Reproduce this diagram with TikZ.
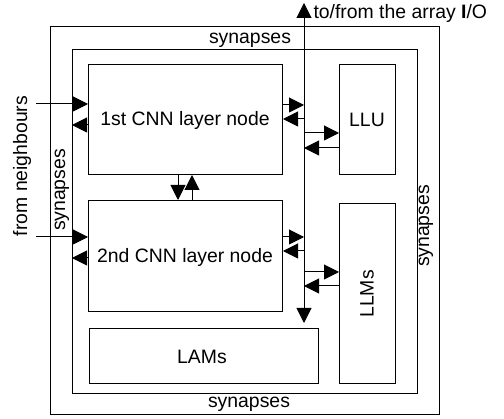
\documentclass[tikz,border=0pt]{standalone}
\usepackage{fontspec}
\setmainfont{Liberation Sans}
\usetikzlibrary{arrows.meta}
\begin{document}
\begin{tikzpicture}[x=1pt,y=-1pt,
  every node/.style={font=\fontsize{19.4}{23}\selectfont},
  frame/.style={draw,line width=1pt},
  box/.style={draw,line width=1pt,anchor=north west,inner sep=0pt},
  lbl/.style={inner sep=0pt},
  tip/.tip={Triangle[length=15pt,width=15pt]},
  conn/.style={line width=1pt,-tip},
  line width=1pt]
\useasboundingbox (0,0) rectangle (504,419);
% frames
\draw[frame] (50,27) rectangle (439,415);
\draw[frame] (72,50) rectangle (417,394);
% blocks
\node[box,minimum width=194pt,minimum height=110pt] (n1) at (88,64) {};
\node[lbl] at (185,120) {1st CNN layer node};
\node[box,minimum width=194pt,minimum height=111pt] (n2) at (88,200) {};
\node[lbl] at (185,257) {2nd CNN layer node};
\node[box,minimum width=229pt,minimum height=55pt] (lams) at (89,328) {};
\node[lbl] at (202,357) {LAMs};
\node[box,minimum width=56pt,minimum height=110pt] (llu) at (339,64) {};
\node[lbl] at (367,120) {LLU};
\node[box,minimum width=56pt,minimum height=180pt] (llms) at (339,203) {};
\node[lbl,rotate=90] at (367,294) {LLMs};
% labels
\node[lbl] (syt) at (250,40) {synapses};
\node[lbl] (syb) at (249,404) {synapses};
\node[lbl,rotate=90] (syl) at (62,190) {synapses};
\node[lbl,rotate=90] (syr) at (426,226) {synapses};
\node[lbl,rotate=90] (nb) at (22,166) {from neighbours};
\node[lbl,anchor=base west] (io) at (313,19) {to/from the array {\bfseries I}/O};
% bus
\coordinate (bustop) at (304,3);
\coordinate (busbot) at (304,323);
\draw[line width=1pt,tip-tip] (busbot) -- (bustop);
% bus taps
\coordinate (b1o) at (304,105);
\coordinate (b1i) at (304,119);
\coordinate (b2o) at (304,237);
\coordinate (b2i) at (304,251);
\coordinate (bLo) at (304,133);
\coordinate (bLi) at (304,148);
\coordinate (bMo) at (304,272);
\coordinate (bMi) at (304,286);
\draw[conn] (n1.east |- b1o) -- (b1o);
\draw[conn] (b1i) -- (n1.east |- b1i);
\draw[conn] (n2.east |- b2o) -- (b2o);
\draw[conn] (b2i) -- (n2.east |- b2i);
\draw[conn] (bLo) -- (llu.west |- bLo);
\draw[conn] (llu.west |- bLi) -- (bLi);
\draw[conn] (bMo) -- (llms.west |- bMo);
\draw[conn] (llms.west |- bMi) -- (bMi);
% neighbour inputs
\coordinate (in1) at (36,104);
\coordinate (in2) at (36,237);
\coordinate (out1) at (72,125);
\coordinate (out2) at (72,258);
\draw[conn] (in1) -- (n1.west |- in1);
\draw[conn] (n1.west |- out1) -- (out1);
\draw[conn] (in2) -- (n2.west |- in2);
\draw[conn] (n2.west |- out2) -- (out2);
% between layers
\coordinate (dn) at (178,0);
\coordinate (up) at (192,0);
\draw[conn] (n1.south -| dn) -- (n2.north -| dn);
\draw[conn] (n2.north -| up) -- (n1.south -| up);
\end{tikzpicture}
\end{document}
